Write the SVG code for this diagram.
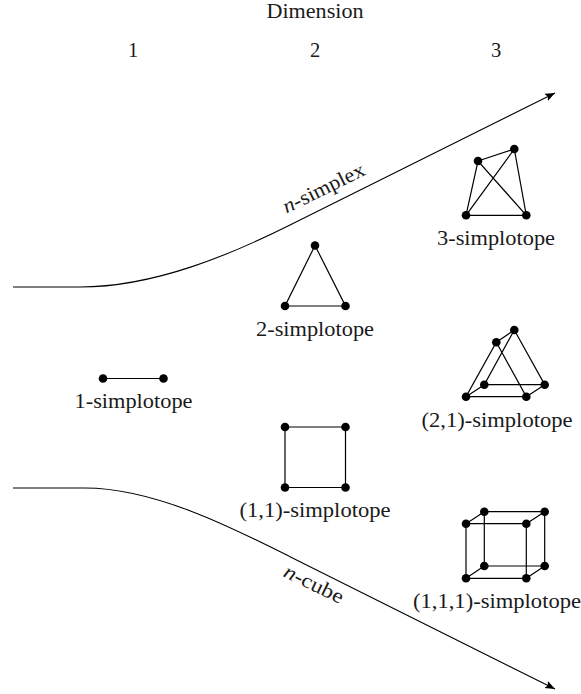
<svg xmlns="http://www.w3.org/2000/svg" width="581" height="694" viewBox="0 0 581 694">
<style>
text{font-family:"Liberation Serif","Times New Roman",serif;font-size:20.5px;fill:#1a1a1a;text-anchor:middle}
.e{fill:none;stroke:#000;stroke-width:1.2}
.c{fill:none;stroke:#000;stroke-width:1.1}
.v{fill:#000}
</style>
<defs>
<marker id="a" markerUnits="userSpaceOnUse" markerWidth="12" markerHeight="10" refX="10" refY="4" orient="auto"><path d="M0,0 L10,4 L0,8 L2,4Z" fill="#000"/></marker>
<circle id="d" r="4.3" class="v"/>
</defs>
<g id="header">
<text x="315" y="17.500" textLength="97" lengthAdjust="spacingAndGlyphs">Dimension</text>
<text x="133" y="57">1</text><text x="315" y="57">2</text><text x="496" y="57">3</text>
</g>
<g id="connectors">
<path class="c" marker-end="url(#a)" d="M13,287 L80,287 C155,287 232,254 290,225 L555,93"/>
<path class="c" marker-end="url(#a)" d="M13,488 L85,488 C155,488 235,529 290,556.700 L555,689"/>
<text transform="translate(326.500,194) rotate(-26)" textLength="89" lengthAdjust="spacingAndGlyphs"><tspan font-style="italic">n</tspan>-simplex</text>
<text transform="translate(311,590) rotate(26)" textLength="64" lengthAdjust="spacingAndGlyphs"><tspan font-style="italic">n</tspan>-cube</text>
</g>
<g id="s1">
<path class="e" d="M103,378.500H163.500"/>
<use href="#d" x="103" y="378.500"/><use href="#d" x="163.500" y="378.500"/>
<text x="133.500" y="407.500" textLength="118" lengthAdjust="spacingAndGlyphs">1-simplotope</text>
</g>
<g id="s2">
<path class="e" d="M285,306H345.500L315,245.500Z"/>
<use href="#d" x="285" y="306"/><use href="#d" x="345.500" y="306"/><use href="#d" x="315" y="245.500"/>
<text x="315" y="335.500" textLength="118" lengthAdjust="spacingAndGlyphs">2-simplotope</text>
</g>
<g id="s11">
<path class="e" d="M285,427H345.500V487.500H285Z"/>
<use href="#d" x="285" y="427"/><use href="#d" x="345.500" y="427"/><use href="#d" x="285" y="487.500"/><use href="#d" x="345.500" y="487.500"/>
<text x="315" y="516.500" textLength="151" lengthAdjust="spacingAndGlyphs">(1,1)-simplotope</text>
</g>
<g id="s3">
<path class="e" d="M466,215.300H526.300L478,161L466,215.300L514.300,149L526.300,215.300M478,161L514.300,149"/>
<use href="#d" x="466" y="215.300"/><use href="#d" x="526.300" y="215.300"/><use href="#d" x="478" y="161"/><use href="#d" x="514.300" y="149"/>
<text x="496" y="245" textLength="118" lengthAdjust="spacingAndGlyphs">3-simplotope</text>
</g>
<g id="s21">
<path class="e" d="M466,396.700H526.300L496.300,342.300ZM484.300,384.700H544.700L514.300,330ZM466,396.700L484.300,384.700M526.300,396.700L544.700,384.700M496.300,342.300L514.300,330"/>
<use href="#d" x="466" y="396.700"/><use href="#d" x="526.300" y="396.700"/><use href="#d" x="484.300" y="384.700"/><use href="#d" x="544.700" y="384.700"/><use href="#d" x="496.300" y="342.300"/><use href="#d" x="514.300" y="330"/>
<text x="497" y="427" textLength="151" lengthAdjust="spacingAndGlyphs">(2,1)-simplotope</text>
</g>
<g id="s111">
<path class="e" d="M466,523.700H526.300V578.300H466ZM484.300,511.700H544.700V566H484.300ZM466,523.700L484.300,511.700M526.300,523.700L544.700,511.700M466,578.300L484.300,566M526.300,578.300L544.700,566"/>
<use href="#d" x="466" y="523.700"/><use href="#d" x="526.300" y="523.700"/><use href="#d" x="484.300" y="511.700"/><use href="#d" x="544.700" y="511.700"/><use href="#d" x="466" y="578.300"/><use href="#d" x="526.300" y="578.300"/><use href="#d" x="484.300" y="566"/><use href="#d" x="544.700" y="566"/>
<text x="497" y="607.500" textLength="168" lengthAdjust="spacingAndGlyphs">(1,1,1)-simplotope</text>
</g>
</svg>
